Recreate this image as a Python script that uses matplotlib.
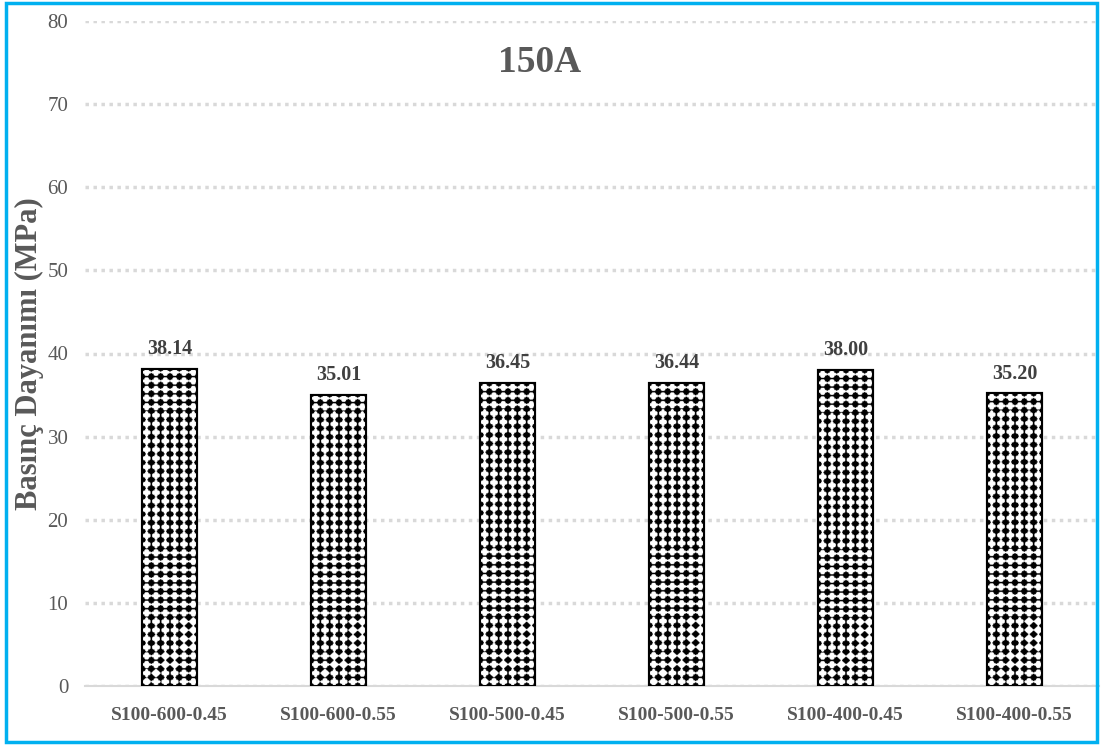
import numpy as np
import matplotlib.pyplot as plt
from matplotlib.patches import Rectangle

plt.rcParams['font.family'] = ['Liberation Serif', 'DejaVu Serif']

categories = ["S100-600-0.45", "S100-600-0.55", "S100-500-0.45",
              "S100-500-0.55", "S100-400-0.45", "S100-400-0.55"]
values = [38.14, 35.01, 36.45, 36.44, 38.00, 35.20]
labels = ["38.14", "35.01", "36.45", "36.44", "38.00", "35.20"]

gray = "#595959"

fig = plt.figure(figsize=(11.01, 7.45), dpi=100)
ax = fig.add_axes([85 / 1101, 59 / 745, 1014 / 1101, 665 / 745])

x = np.arange(len(categories))
bars = ax.bar(x, values, width=0.33, color="white", edgecolor="black",
              linewidth=1.5, zorder=3)


def diamond_tile(nx, ny, res=12):
    # lattice of black diamonds touching at the tips, white holes between
    u = (np.arange(nx * res) + 0.5) / res
    v = (np.arange(ny * res) + 0.5) / res
    U, V = np.meshgrid(u, v)
    dx = np.abs(U - np.round(U))
    dy = np.abs(V - np.round(V))
    black = (dx + dy < 0.5) | (np.hypot(dx, dy) < 0.34)
    return np.where(black, 0.0, 1.0)


# fill each bar with the dotted pattern, clipped to the bar
for b in bars:
    x0, y0 = b.get_x(), b.get_y()
    w, h = b.get_width(), b.get_height()
    ny = int(round(h * 665 / 80 / 8.6))
    img = diamond_tile(6, ny)
    im = ax.imshow(img, cmap="gray", vmin=0, vmax=1, interpolation="bilinear",
                   extent=(x0, x0 + w, y0, y0 + h), origin="lower",
                   aspect="auto", zorder=3.5)
    im.set_clip_path(b)
    edge = Rectangle((x0, y0), w, h, fill=False, edgecolor="black",
                     linewidth=1.5, zorder=4)
    ax.add_patch(edge)

for xi, v, lab in zip(x, values, labels):
    ax.annotate(lab, (xi, v), xytext=(0, 7), textcoords="offset points",
                ha="center", va="bottom", fontsize=14.5, fontweight="bold",
                color="#404040")

ax.set_xlim(-0.5, len(categories) - 0.5)
ax.set_ylim(0, 80)
ax.set_yticks(range(0, 81, 10))
ax.set_xticks(x)
ax.set_xticklabels(categories, fontsize=14, fontweight="bold", color=gray)
ax.tick_params(axis="y", length=0, pad=12, labelsize=15, labelcolor=gray)
ax.tick_params(axis="x", length=0, pad=15)

ax.yaxis.grid(True, linestyle=(0, (1, 1.3)), color="#D9D9D9", linewidth=2.5,
              zorder=0)
for s in ["top", "right", "left"]:
    ax.spines[s].set_visible(False)
ax.spines["bottom"].set_color("#D9D9D9")
ax.spines["bottom"].set_linewidth(1.5)

ax.set_ylabel("Basınç Dayanımı (MPa)", fontsize=22, fontweight="bold",
              color=gray)
ax.yaxis.set_label_coords(-41 / 1014, 0.5)

fig.text(540 / 1101, 682 / 745, "150A", ha="center", va="center",
         fontsize=27, fontweight="bold", color=gray)

# blue frame around the chart
fig.patches.append(Rectangle((6 / 1101, 3 / 745), 1091 / 1101, 739 / 745,
                             transform=fig.transFigure, fill=False,
                             edgecolor="#00B0F0", linewidth=2.5))

fig.savefig("out.png", dpi=100)
